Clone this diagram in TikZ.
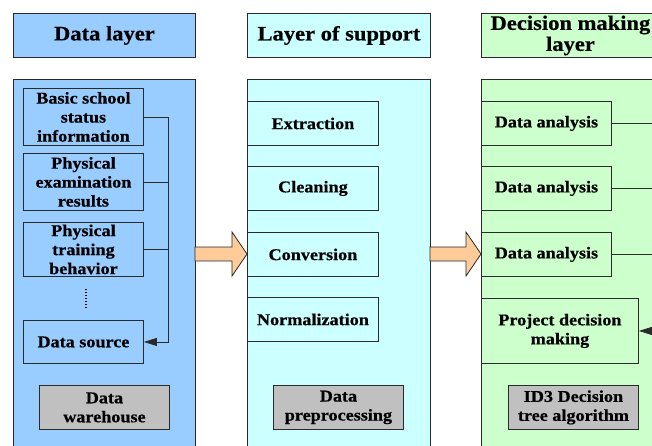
\documentclass[tikz,border=0pt]{standalone}
\usepackage{fontspec}
\setmainfont{Liberation Serif}[FakeStretch=1.1,BoldFeatures={FakeBold=0.5}]
\usetikzlibrary{arrows.meta}
\definecolor{pblue}{HTML}{99CCFF}
\definecolor{pcyan}{HTML}{CCFFFF}
\definecolor{pgreen}{HTML}{CCFFCC}
\definecolor{pgrey}{HTML}{C0C0C0}
\definecolor{porange}{HTML}{FFCC99}
\definecolor{edge}{HTML}{2A2A2A}
\tikzset{
  box/.style={draw=edge, line width=0.9pt, anchor=north west, inner sep=0pt, align=center,
    font=\fontsize{16.5}{19}\selectfont\bfseries},
  head/.style={box, font=\fontsize{20.5}{21}\selectfont\bfseries},
  panel/.style={draw=edge, line width=0.9pt},
  conn/.style={draw=edge, line width=0.8pt},
  tip/.style={-{Triangle[length=13pt,width=8pt]}},
  bigarrow/.style={draw=edge, line width=0.8pt, fill=porange}
}
\begin{document}
\begin{tikzpicture}[x=1pt,y=-1pt]
\useasboundingbox (0,0) rectangle (652,446);
\clip (0,0) rectangle (652,446);
\fill[white] (0,0) rectangle (652,446);
% headers
\node[head, fill=pblue, minimum width=182pt, minimum height=44pt] (h1) at (13,13) {Data layer};
\node[head, fill=pcyan, minimum width=183pt, minimum height=44pt] (h2) at (247,13) {Layer of support};
\node[head, fill=pgreen, minimum width=178pt, minimum height=44pt] (h3) at (481,13) {Decision making\\layer};
% panels
\path[panel, fill=pblue] (13,79) rectangle (195,460);
\path[panel, fill=pcyan] (247,79) rectangle (430,460);
\path[panel, fill=pgreen] (481,79) rectangle (665,460);
% data layer boxes
\node[box, fill=pblue, minimum width=120pt, minimum height=57pt] (bs) at (23,88) {Basic school\\status\\information};
\node[box, fill=pblue, minimum width=120pt, minimum height=57pt] (pe) at (23,153) {Physical\\examination\\results};
\node[box, fill=pblue, minimum width=120pt, minimum height=54pt] (pt) at (23,222) {Physical\\training\\behavior};
\node[box, fill=pblue, minimum width=120pt, minimum height=43pt] (ds) at (23,320) {Data source};
\node[box, fill=pgrey, minimum width=130pt, minimum height=44pt] (dw) at (39,385) {Data\\warehouse};
\foreach \k in {0,...,6} {
  \fill[black] (84.8,288.5+3*\k) rectangle (87.4,290.1+3*\k);
}
% bracket
\coordinate (bus) at (168,0);
\draw[conn] (bs.east) -- (bs.east -| bus);
\draw[conn] (pe.east) -- (pe.east -| bus);
\draw[conn] (pt.east) -- (pt.east -| bus);
\draw[conn, tip] (bs.east -| bus) -- (ds.east -| bus) -- (ds.east);
% support boxes
\node[box, fill=pcyan, minimum width=131pt, minimum height=44pt] (ex) at (247,101) {Extraction};
\node[box, fill=pcyan, minimum width=131pt, minimum height=44pt] (cl) at (247,166) {Cleaning};
\node[box, fill=pcyan, minimum width=131pt, minimum height=44pt] (cv) at (247,232) {Conversion};
\node[box, fill=pcyan, minimum width=131pt, minimum height=44pt] (nm) at (247,297) {Normalization};
\node[box, fill=pgrey, minimum width=130pt, minimum height=44pt] (dp) at (273,385) {Data\\preprocessing};
% decision boxes
\node[box, fill=pgreen, minimum width=130pt, minimum height=44pt] (da1) at (481,101) {Data analysis};
\node[box, fill=pgreen, minimum width=130pt, minimum height=44pt] (da2) at (481,166) {Data analysis};
\node[box, fill=pgreen, minimum width=130pt, minimum height=44pt] (da3) at (481,232) {Data analysis};
\node[box, fill=pgreen, minimum width=157pt, minimum height=65pt] (pd) at (481,298) {Project decision\\making};
\node[box, fill=pgrey, minimum width=130pt, minimum height=44pt] (id) at (508,385) {ID3 Decision\\tree algorithm};
\coordinate (rbus) at (662,0);
\draw[conn] (da1.east) -- (da1.east -| rbus);
\draw[conn] (da2.east) -- (da2.east -| rbus);
\draw[conn] (da3.east) -- (da3.east -| rbus);
\draw[conn, tip] (pd.east -| rbus) -- (pd.east);
% big arrows
\draw[bigarrow] (195,247) -- (232,247) -- (232,232) -- (247,254) -- (232,276) -- (232,261) -- (195,261) -- cycle;
\draw[bigarrow] (430,247) -- (466,247) -- (466,232) -- (481,254) -- (466,276) -- (466,261) -- (430,261) -- cycle;
\end{tikzpicture}
\end{document}
